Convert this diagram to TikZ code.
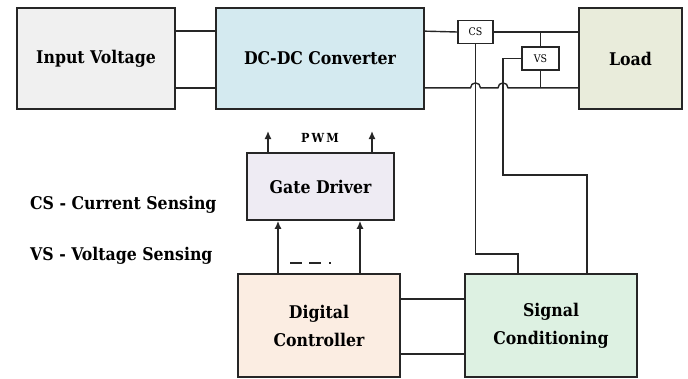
\documentclass[tikz,border=0pt]{standalone}
\usepackage{fontspec}
\setmainfont{DejaVu Serif Condensed}
\usetikzlibrary{arrows.meta,calc,positioning}
\definecolor{inputColor}{RGB}{240,240,240}
\definecolor{converterColor}{RGB}{212,234,240}
\definecolor{loadColor}{RGB}{233,236,219}
\definecolor{driverColor}{RGB}{238,235,243}
\definecolor{controllerColor}{RGB}{251,237,226}
\definecolor{conditioningColor}{RGB}{221,241,226}
\definecolor{edgeColor}{RGB}{38,38,38}
\tikzset{block/.style={draw=edgeColor, line width=1.7pt, align=center, inner sep=0pt, font=\bfseries\fontsize{17.5}{28}\selectfont}}
\tikzset{sensor/.style={draw=edgeColor, line width=1.4pt, fill=white, inner sep=0pt, font=\fontsize{10.5}{12}\selectfont}}
\tikzset{note/.style={anchor=base west, inner sep=0pt, font=\bfseries\fontsize{17.5}{22}\selectfont}}
\tikzset{wire/.style={draw=edgeColor, line width=1.4pt}}
\tikzstyle{arrow} = [wire, -{Latex[length=8pt,width=7pt]}]

\begin{document}
\begin{tikzpicture}[x=1pt,y=-1pt]
	\useasboundingbox (0,0) rectangle (688,378);
	% Nodes
	\node (input) [block, fill=inputColor, minimum width=158pt, minimum height=101pt] at (96,58.5) {Input Voltage};
	\node (converter) [block, fill=converterColor, minimum width=208pt, minimum height=101pt] at (320,58.5) {DC-DC Converter};
	\node (load) [block, fill=loadColor, minimum width=103pt, minimum height=101pt] at (630.5,58.5) {Load};
	\node (cs) [sensor, minimum width=35pt, minimum height=23pt] at (475.5,32) {CS};
	\node (vs) [sensor, minimum width=37pt, minimum height=23pt] at (540.5,58.5) {VS};

	\node (driver) [block, fill=driverColor, minimum width=147pt, minimum height=67pt] at (320.5,186.5) {Gate Driver};
	\node (pwm) [font=\bfseries\fontsize{12.5}{15}\selectfont] at (320,138) {P\,W\,M};

	\node (controller) [block, fill=controllerColor, minimum width=162pt, minimum height=103pt] at (319,325.5) {Digital\\Controller};
	\node (conditioning) [block, fill=conditioningColor, minimum width=172pt, minimum height=103pt] at (551,325.5) {Signal\\Conditioning};

	\node (csnote) [note] at (30,209) {CS - Current Sensing};
	\node (vsnote) [note] at (30,260) {VS - Voltage Sensing};

	\coordinate (low) at ([yshift=22pt]converter.south east);
	\coordinate (vsturn) at (503,175);
	\coordinate (csturn) at (518,254);
	\coordinate (pwmL) at (268,131);
	\coordinate (pwmR) at (372,131);

	% Connectors
	\draw [wire] ([yshift=-24pt]input.north east) -- ([yshift=-24pt]converter.north west);
	\draw [wire] ([yshift=22pt]input.south east) -- ([yshift=22pt]converter.south west);

	\draw [wire] ([yshift=-24pt]converter.north east) -- (cs.west);
	\draw [wire] (cs.east) -- (cs.east -| load.west);
	\draw [wire] (low) -- ([xshift=-5pt]low -| cs.south) arc[start angle=180, end angle=0, radius=5pt]
		-- ([xshift=-5pt]low -| vsturn) arc[start angle=180, end angle=0, radius=5pt]
		-- (low -| load.west);
	\draw [wire] (vs.north) -- (vs.north |- cs.east);
	\draw [wire] (vs.south) -- (vs.south |- low);

	% sensing lines
	\draw [wire] (cs.south) |- (csturn) -- (csturn |- conditioning.north);
	\draw [wire] (vs.west) -| (vsturn) -| ([xshift=36pt]conditioning.north);

	% gate signals
	\draw [arrow] (pwmL |- driver.north) -- (pwmL);
	\draw [arrow] (pwmR |- driver.north) -- (pwmR);
	\draw [arrow] ([xshift=-41pt]controller.north) -- ([xshift=-41pt]controller.north |- driver.south);
	\draw [arrow] ([xshift=41pt]controller.north) -- ([xshift=41pt]controller.north |- driver.south);
	\draw [wire, dash pattern=on 12pt off 7pt on 12pt off 8pt on 2pt off 20pt] (290,263) -- (342,263);

	\draw [wire] ([yshift=-26pt]controller.north east) -- ([yshift=-26pt]conditioning.north west);
	\draw [wire] ([yshift=24pt]controller.south east) -- ([yshift=24pt]conditioning.south west);
\end{tikzpicture}
\end{document}
